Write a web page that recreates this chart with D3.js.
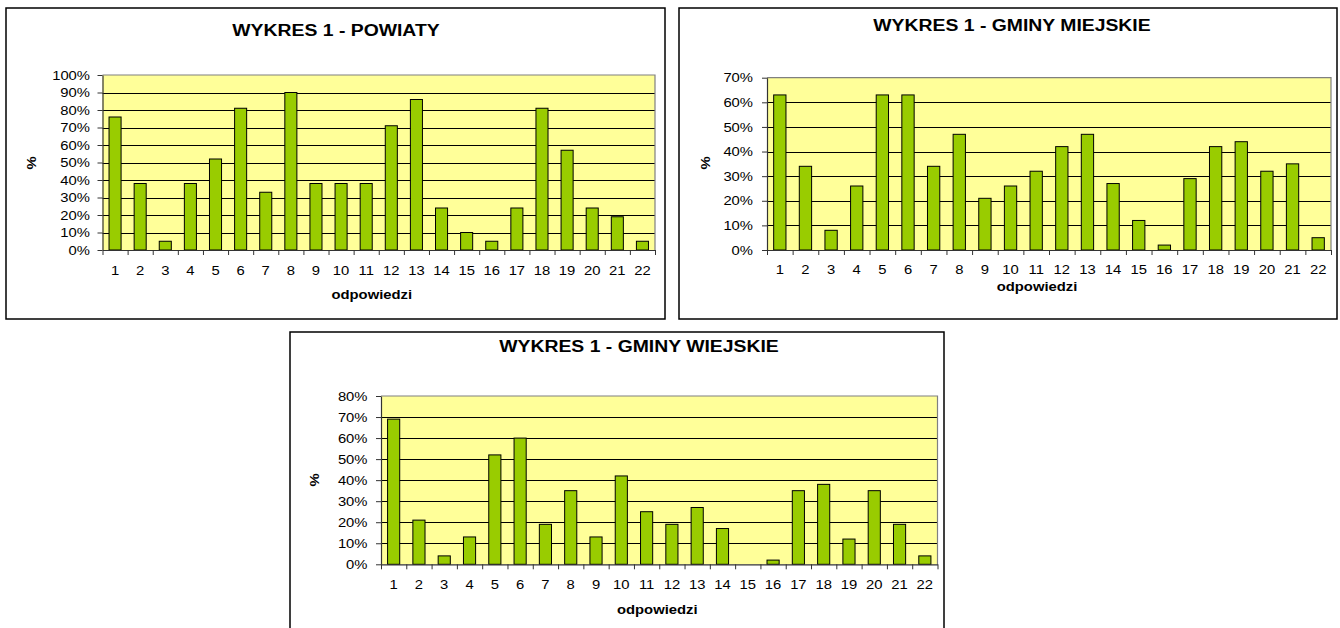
<!DOCTYPE html>
<html><head><meta charset="utf-8">
<script src="https://cdn.jsdelivr.net/npm/d3@7"></script>
<style>
html,body{margin:0;padding:0;background:#fff;}
svg{display:block;font-family:"Liberation Sans",Arial,sans-serif;}
</style></head>
<body>
<svg id="c" width="1340" height="628"></svg>
<script>
const categories = ["1","2","3","4","5","6","7","8","9","10","11","12","13","14","15","16","17","18","19","20","21","22"];
const powiaty = [76,38,5,38,52,81,33,90,38,38,38,71,86,24,10,5,24,81,57,24,19,5];
const gminyMiejskie = [63,34,8,26,63,63,34,47,21,26,32,42,47,27,12,2,29,42,44,32,35,5];
const gminyWiejskie = [69,21,4,13,52,60,19,35,13,42,25,19,27,17,0,2,35,38,12,35,19,4];
const titles = ["WYKRES 1 - POWIATY","WYKRES 1 - GMINY MIEJSKIE","WYKRES 1 - GMINY WIEJSKIE"];
const yMaxes = [100,70,80];
const xTitle = "odpowiedzi";
const yTitle = "%";

const svg = d3.select("#c");
const SX = 1.14; // horizontal text stretch of the original

const layouts = [
  {frame:[6,8,665,319], plot:[102.5,75,655,250], titleX:336, titleY:36, xLabY:275, xTitleY:299, yTitleX:36, yTitleY:163, gap:12.5, values:powiaty},
  {frame:[679,8,1337,319], plot:[767,77.7,1331,250], titleX:1012, titleY:31, xLabY:274, xTitleY:291, yTitleX:710, yTitleY:163, gap:14, values:gminyMiejskie},
  {frame:[290,332,944,640], plot:[381,396,937.5,564.3], titleX:639, titleY:352, xLabY:589, xTitleY:614, yTitleX:319, yTitleY:480, gap:13.5, values:gminyWiejskie}
];

function stretchedText(g, x, y, txt, size, weight, rotate){
  const t = g.append("text")
    .attr("transform", `translate(${x},${y})` + (rotate?` rotate(${rotate})`:"") + ` scale(${SX},1)`)
    .attr("text-anchor","middle")
    .attr("font-size", size)
    .attr("font-weight", weight)
    .attr("fill","#000")
    .text(txt);
  return t;
}

layouts.forEach((L,i)=>{
  const g = svg.append("g");
  const [fx0,fy0,fx1,fy1] = L.frame;
  g.append("rect").attr("x",fx0).attr("y",fy0).attr("width",fx1-fx0).attr("height",fy1-fy0)
    .attr("fill","#fff").attr("stroke","#000").attr("stroke-width",1.5);

  const [px0,py0,px1,py1] = L.plot;
  const data = categories.map((c,k)=>({c, v:L.values[k]}));
  const x = d3.scaleBand().domain(categories).range([px0,px1]).paddingInner(0.52).paddingOuter(0.26);
  const xb = d3.scaleLinear().domain([0,categories.length]).range([px0,px1]);
  const y = d3.scaleLinear().domain([0,yMaxes[i]/100]).range([py1,py0]);

  // plot background
  g.append("rect").attr("x",px0).attr("y",py0).attr("width",px1-px0).attr("height",py1-py0)
    .attr("fill","#FFFF99");
  // gridlines
  const ticks = d3.range(0, yMaxes[i]+1, 10).map(d=>d/100);
  g.append("g").selectAll("line").data(ticks.filter(t=>t>0 && t<yMaxes[i]/100-1e-9)).join("line")
    .attr("x1",px0).attr("x2",px1).attr("y1",d=>Math.round(y(d))+0.5).attr("y2",d=>Math.round(y(d))+0.5)
    .attr("stroke","#000").attr("stroke-width",1);
  // plot border top/right (gray)
  g.append("path").attr("d",`M${px0},${py0}H${px1}V${py1}`).attr("fill","none").attr("stroke","#808080").attr("stroke-width",1.2);

  // bars
  g.append("g").selectAll("rect").data(data).join("rect")
    .attr("x",d=>x(d.c)).attr("width",x.bandwidth())
    .attr("y",d=>y(d.v/100)).attr("height",d=>y(0)-y(d.v/100))
    .attr("fill","#99CC00").attr("stroke","#000").attr("stroke-width",1)
    .attr("visibility",d=>d.v>0?"visible":"hidden");

  // y axis
  const ya = g.append("g").attr("transform",`translate(${px0},0)`)
    .call(d3.axisLeft(y).tickValues(ticks).tickFormat(d3.format(".0%")).tickSize(5).tickSizeOuter(0));
  ya.select(".domain").attr("stroke","#333").attr("stroke-width",1.2);
  ya.selectAll(".tick line").attr("stroke","#333");
  ya.selectAll(".tick text").attr("x",-L.gap/SX).attr("transform",`scale(${SX},1)`)
    .attr("font-size",13).attr("font-family","Liberation Sans, Arial, sans-serif").attr("fill","#000");

  // x axis boundary ticks
  const xa = g.append("g").attr("transform",`translate(0,${py1})`)
    .call(d3.axisBottom(xb).tickValues(d3.range(0,categories.length+1)).tickFormat("").tickSize(5).tickSizeOuter(0));
  xa.select(".domain").attr("stroke","#333").attr("stroke-width",1.2);
  xa.selectAll(".tick line").attr("stroke","#333");
  // x labels
  const xl = g.append("g").attr("transform",`translate(0,${L.xLabY})`)
    .call(d3.axisBottom(x).tickSize(0).tickPadding(0));
  xl.select(".domain").remove();
  xl.selectAll(".tick text").attr("y",0).attr("dy",0).attr("transform",`scale(${SX},1)`)
    .attr("font-size",13).attr("font-family","Liberation Sans, Arial, sans-serif").attr("fill","#000");

  // titles
  stretchedText(g, L.titleX, L.titleY, titles[i], 17, "bold");
  stretchedText(g, (px0+px1)/2 + (i===0?-7:i===1?-12:-2), L.xTitleY, xTitle, 13, "bold");
  stretchedText(g, L.yTitleX, L.yTitleY, yTitle, 13, "bold", -90);
});
</script>
</body></html>
